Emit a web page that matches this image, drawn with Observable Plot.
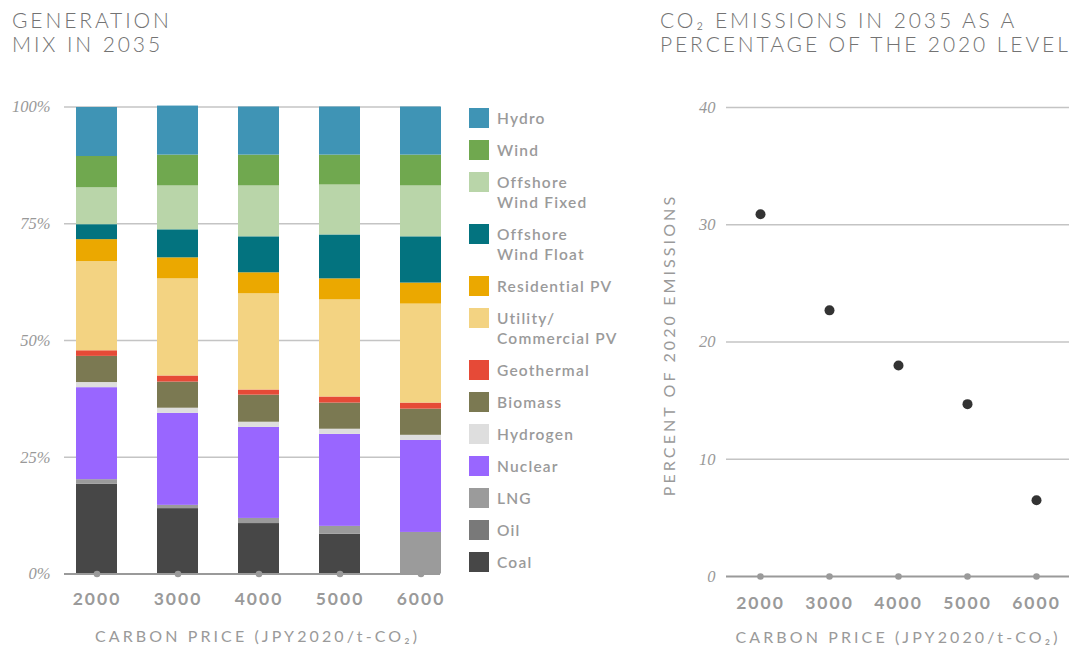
<!DOCTYPE html>
<html>
<head>
<meta charset="utf-8">
<script src="https://cdn.jsdelivr.net/npm/d3@7"></script>
<script src="https://cdn.jsdelivr.net/npm/@observablehq/plot@0.6"></script>
<style>
  html, body { margin: 0; padding: 0; background: #fff; }
  #root { position: relative; width: 1073px; height: 647px; overflow: hidden; font-family: Lato, "Open Sans", sans-serif; }
  .title { position: absolute; top: 8px; font-family: Lato, sans-serif; font-weight: 300; font-size: 21px; line-height: 24px; letter-spacing: 2.9px; color: #737373; white-space: nowrap; }
  .chart { position: absolute; top: 80px; }
  .chart svg { overflow: visible; }
  #legend { position: absolute; left: 469px; top: 108px; }
  .item { display: flex; align-items: flex-start; margin-bottom: 12px; }
  .sw { width: 20px; height: 20px; flex: none; }
  .lab { margin-left: 8px; font-family: Lato, sans-serif; font-weight: 600; font-size: 15.5px; line-height: 20px; letter-spacing: 1.2px; color: #9a9a9a; white-space: nowrap; }
</style>
</head>
<body>
<div id="root">
  <div class="title" style="left:12px">GENERATION<br>MIX IN 2035</div>
  <div class="title" style="left:660px">CO₂ EMISSIONS IN 2035 AS A<br>PERCENTAGE OF THE 2020 LEVEL</div>
  <div class="chart" id="left" style="left:0px"></div>
  <div id="legend"></div>
  <div class="chart" id="right" style="left:640px"></div>
</div>
<script>
// ---- data ----
const prices = ["2000", "3000", "4000", "5000", "6000"];
const yTicksMix = [0, 25, 50, 75, 100];
const yTicksCO2 = [0, 10, 20, 30, 40];
const xTitle = "CARBON PRICE (JPY2020/t-CO₂)";
const yTitleCO2 = "PERCENT OF 2020 EMISSIONS";

// generation mix shares (%) per carbon price, stacked bottom -> top
const coal          = [19.2, 14.0, 10.8,  8.5,  0.0];
const oil           = [ 0.0,  0.0,  0.0,  0.0,  0.0];
const lng           = [ 1.0,  0.7,  1.1,  1.7,  8.9];
const nuclear       = [19.7, 19.7, 19.5, 19.7, 19.7];
const hydrogen      = [ 1.1,  1.1,  1.1,  1.1,  1.1];
const biomass       = [ 5.6,  5.6,  5.8,  5.6,  5.6];
const geothermal    = [ 1.2,  1.3,  1.1,  1.3,  1.3];
const utilityPV     = [19.1, 20.8, 20.6, 20.8, 21.2];
const residentialPV = [ 4.7,  4.5,  4.5,  4.5,  4.5];
const windFloat     = [ 3.2,  6.0,  7.7,  9.4,  9.9];
const windFixed     = [ 7.9,  9.4, 10.9, 10.7, 10.9];
const wind          = [ 6.7,  6.6,  6.6,  6.4,  6.6];
const hydro         = [10.5, 10.5, 10.3, 10.3, 10.3];

const sources = ["Coal", "Oil", "LNG", "Nuclear", "Hydrogen", "Biomass", "Geothermal",
  "Utility/Commercial PV", "Residential PV", "Offshore Wind Float", "Offshore Wind Fixed", "Wind", "Hydro"];
const sourceLabels = [["Coal"], ["Oil"], ["LNG"], ["Nuclear"], ["Hydrogen"], ["Biomass"], ["Geothermal"],
  ["Utility/", "Commercial PV"], ["Residential PV"], ["Offshore", "Wind Float"], ["Offshore", "Wind Fixed"], ["Wind"], ["Hydro"]];
const sourceColors = ["#474747", "#797979", "#9b9b9b", "#9966ff", "#dedede", "#7b7952", "#e64a37",
  "#f3d382", "#eba800", "#03737f", "#b9d5a9", "#70a84f", "#3f94b5"];
const seriesValues = [coal, oil, lng, nuclear, hydrogen, biomass, geothermal,
  utilityPV, residentialPV, windFloat, windFixed, wind, hydro];

// CO2 emissions in 2035 as % of 2020
const emissions = [30.9, 22.7, 18.0, 14.7, 6.5];

// ---- build tables ----
const mixRows = [];
prices.forEach((p, i) => sources.forEach((s, j) => mixRows.push({price: p, source: s, value: seriesValues[j][i]})));
const co2Rows = prices.map((p, i) => ({price: p, pct: emissions[i]}));

const gridStyle = {stroke: "#c4c4c4", strokeOpacity: 1, strokeWidth: 1.5};
const zeroStyle = {stroke: "#9a9a9a", strokeOpacity: 1, strokeWidth: 2};
const yTickText = {tickSize: 0, fontFamily: "Liberation Serif, serif", fontStyle: "italic", fontSize: 16.5, fill: "#999", label: null};
const xTickText = {tickSize: 0, tickPadding: 19, fontFamily: "Lato, sans-serif", fontWeight: 700, fontSize: 17.5, fill: "#9a9a9a", label: null};
const titleText = {fontFamily: "Lato, sans-serif", fontSize: 16, fill: "#9a9a9a"};

const left = Plot.plot({
  width: 460, height: 567,
  marginLeft: 64, marginRight: 20, marginTop: 26.5, marginBottom: 73.5,
  style: {fontFamily: "Lato, sans-serif", color: "#999", background: "transparent"},
  x: {type: "band", domain: prices, paddingInner: 0.5, paddingOuter: 0.0625, align: 1, label: null},
  y: {domain: [0, 100], label: null},
  color: {domain: sources, range: sourceColors},
  marks: [
    Plot.gridY(yTicksMix.slice(1), gridStyle),
    Plot.barY(mixRows, {x: "price", y: "value", fill: "source"}),
    Plot.ruleY([0], zeroStyle),
    Plot.dot(prices, {x: Plot.identity, frameAnchor: "bottom", r: 3.3, fill: "#9a9a9a", stroke: null}),
    Plot.axisY(yTicksMix, {...yTickText, tickPadding: 14, tickFormat: d => d + "%"}),
    Plot.axisX(xTickText),
    Plot.text([xTitle], {...titleText, text: d => d, frameAnchor: "bottom", dy: 68, dx: 5})
  ]
});
document.getElementById("left").appendChild(left);

const right = Plot.plot({
  width: 433, height: 567,
  marginLeft: 86, marginRight: 4, marginTop: 27, marginBottom: 71,
  style: {fontFamily: "Lato, sans-serif", color: "#999", background: "transparent"},
  x: {type: "point", domain: prices, padding: 0.46, label: null},
  y: {domain: [0, 40], label: null},
  marks: [
    Plot.gridY(yTicksCO2.slice(1), gridStyle),
    Plot.ruleY([0], zeroStyle),
    Plot.dot(prices, {x: Plot.identity, frameAnchor: "bottom", r: 3.3, fill: "#9a9a9a", stroke: null}),
    Plot.dot(co2Rows, {x: "price", y: "pct", r: 5, fill: "#333", stroke: null}),
    Plot.axisY(yTicksCO2, {...yTickText, tickPadding: 11}),
    Plot.axisX({...xTickText, tickPadding: 20}),
    Plot.text([xTitle], {...titleText, text: d => d, frameAnchor: "bottom", dy: 66}),
    Plot.text([yTitleCO2], {...titleText, text: d => d, frameAnchor: "left", textAnchor: "middle", rotate: -90, dx: -57, dy: 3})
  ]
});
document.getElementById("right").appendChild(right);

// letter spacing tweaks
for (const svg of [left, right]) {
  d3.select(svg).selectAll('g[aria-label="x-axis tick label"] text').attr("letter-spacing", "2px");
  d3.select(svg).selectAll('g[aria-label="text"] text').attr("letter-spacing", "3.1px");
}

// legend (top -> bottom: reverse of stack order)
const color = left.scale("color");
const legend = d3.select("#legend");
sources.slice().reverse().forEach((s) => {
  const j = sources.indexOf(s);
  const item = legend.append("div").attr("class", "item");
  item.append("div").attr("class", "sw").style("background", color.apply(s));
  item.append("div").attr("class", "lab").html(sourceLabels[j].join("<br>"));
});
</script>
</body>
</html>
